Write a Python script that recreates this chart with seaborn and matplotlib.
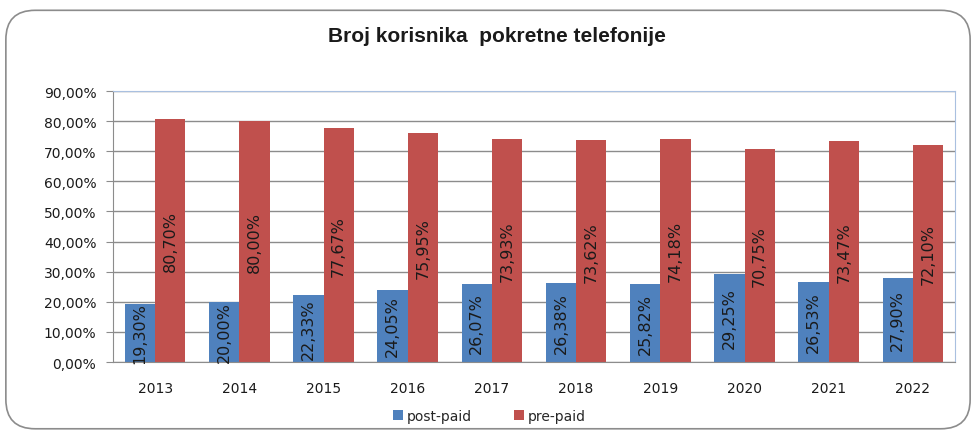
import pandas as pd
import matplotlib.pyplot as plt
import seaborn as sns
from matplotlib.patches import FancyBboxPatch
from matplotlib.ticker import FuncFormatter

# podaci
godine = ['2013', '2014', '2015', '2016', '2017', '2018', '2019', '2020', '2021', '2022']
post_paid = [19.30, 20.00, 22.33, 24.05, 26.07, 26.38, 25.82, 29.25, 26.53, 27.90]
pre_paid = [80.70, 80.00, 77.67, 75.95, 73.93, 73.62, 74.18, 70.75, 73.47, 72.10]

df = pd.DataFrame({
    'godina': godine * 2,
    'udio': post_paid + pre_paid,
    'tip': ['post-paid'] * len(godine) + ['pre-paid'] * len(godine),
})

sns.set_style('white')
plt.rcParams['font.family'] = ['DejaVu Sans']

fig = plt.figure(figsize=(9.76, 4.35), dpi=100)
# okvir sa zaobljenim rubovima
okvir = FancyBboxPatch((0.006, 0.012), 0.988, 0.962, boxstyle='round,pad=0,rounding_size=0.03',
                       transform=fig.transFigure, facecolor='white', edgecolor='#8c8c8c',
                       linewidth=1.2, mutation_aspect=976 / 435, zorder=-10)
fig.patches.append(okvir)
ax = fig.add_axes([0.1158, 0.1655, 0.8627, 0.623])
ax.patch.set_alpha(0)

sns.barplot(data=df, x='godina', y='udio', hue='tip', palette=['#4F81BD', '#C0504D'],
            width=0.72, saturation=1, linewidth=0, ax=ax, legend=True)

for cont in ax.containers:
    labels = [f'{v:.2f}%'.replace('.', ',') for v in cont.datavalues]
    ax.bar_label(cont, labels=labels, label_type='center', rotation=90, fontsize=11.5, color='#1a1a1a')

ax.set_ylim(0, 90)
ax.set_yticks(range(0, 91, 10))
ax.yaxis.set_major_formatter(FuncFormatter(lambda v, p: f'{v:.2f}%'.replace('.', ',')))
ax.grid(axis='y', color='#8c8c8c', linewidth=1)
ax.set_axisbelow(True)
ax.set_xlabel('')
ax.set_ylabel('')
ax.tick_params(axis='y', labelsize=10, left=True, length=5, color='#8c8c8c', pad=7, labelcolor='#1a1a1a')
ax.tick_params(axis='x', labelsize=10, bottom=False, pad=10, labelcolor='#1a1a1a')
for s in ['top', 'right']:
    ax.spines[s].set_color('#a9c0e0')
for s in ['left', 'bottom']:
    ax.spines[s].set_color('#8c8c8c')

fig.text(0.509, 0.915, 'Broj korisnika  pokretne telefonije', ha='center', va='center',
         fontsize=15, fontweight='bold', family=['Liberation Sans'], color='#1a1a1a')

ax.legend(loc='center', bbox_to_anchor=(0.447, -0.2), ncol=2, frameon=False, fontsize=10,
          handlelength=0.7, handleheight=0.7, columnspacing=3, handletextpad=0.3)

fig.savefig('out.png', dpi=100)
